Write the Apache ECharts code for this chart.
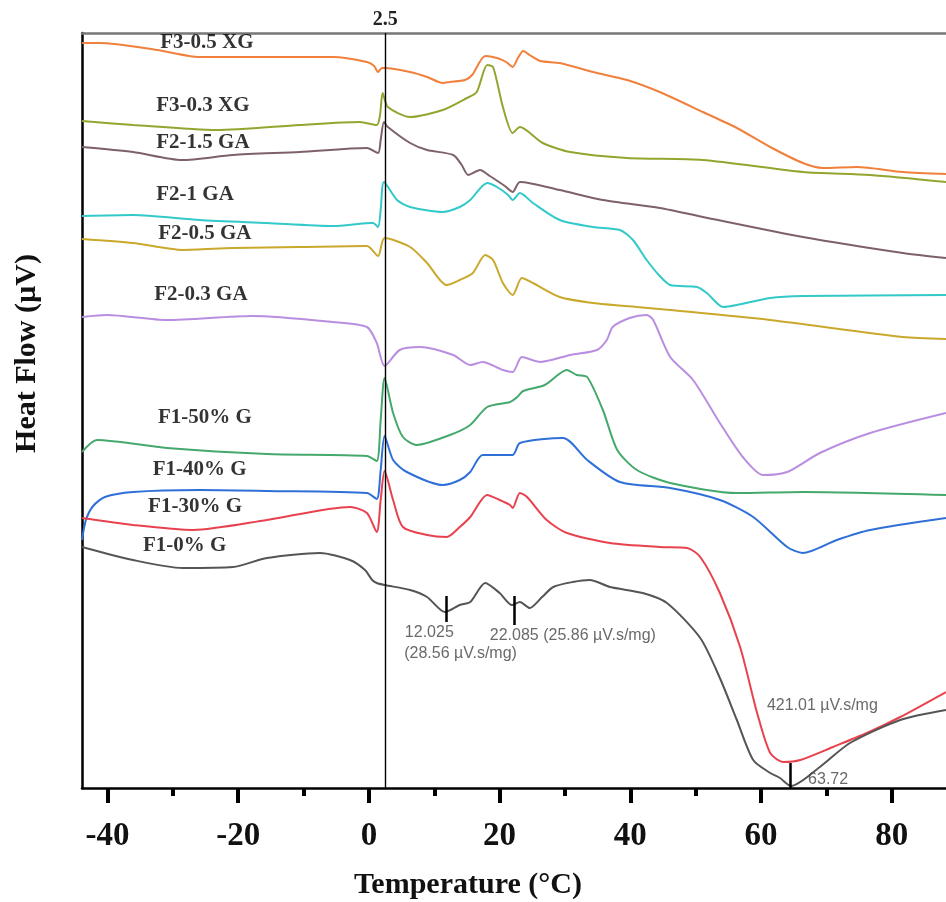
<!DOCTYPE html>
<html>
<head>
<meta charset="utf-8">
<script src="https://cdn.jsdelivr.net/npm/echarts@6/dist/echarts.min.js"></script>
<style>html,body{margin:0;padding:0;background:#fff}#c{width:946px;height:902px}</style>
</head>
<body>
<div id="c"></div>
<script>
// ---- data (temperature °C, heat flow in arbitrary µV units) ----
const seriesNames = ['F3-0.5 XG','F3-0.3 XG','F2-1.5 GA','F2-1 GA','F2-0.5 GA','F2-0.3 GA','F1-50% G','F1-40% G','F1-30% G','F1-0% G'];
const xTicksMajor = [-40,-20,0,20,40,60,80];
const xTicksMinor = [-30,-10,10,30,50,70];

const f3_05XG = [[-43.9,745],[-41.2,745],[-32.4,738],[-25.9,731],[-10.6,731],[-5.5,731],[-0.3,726],[0.8,722],[1.4,716],[2.0,720],[2.5,720],[6.3,716],[8.9,711],[11.3,705],[12.4,706],[14.7,708],[15.8,713],[17.8,732],[19.6,730],[21.0,726],[22.0,721],[22.8,730],[23.6,737],[24.6,733],[26.2,727],[29.2,725],[34.3,716],[39.5,708],[44.5,696],[51.1,676],[56.3,660],[61.4,641],[66.4,625],[69.5,620],[74.7,621],[81.7,616],[88.3,614]];
const f3_03XG = [[-43.9,667],[-36.1,663],[-23.3,658],[-10.6,663],[-1.4,666],[1.2,663],[1.7,673],[2.1,695],[2.9,681],[6.3,671],[11.3,678],[15.0,690],[16.5,696],[18.1,723],[19.0,721],[20.5,681],[22.0,655],[23.1,661],[26.6,645],[30.8,636],[39.5,630],[51.1,628],[66.4,616],[76.7,613],[88.3,606]];
const f2_15GA = [[-43.9,641],[-36.1,636],[-28.6,628],[-20.8,633],[-10.6,636],[-0.3,640],[1.4,635],[1.8,648],[2.3,666],[2.9,661],[6.3,645],[8.9,638],[12.9,633],[14.2,623],[15.2,613],[17.0,618],[18.5,612],[20.8,602],[22.0,596],[23.1,606],[29.2,598],[35.8,588],[44.5,580],[51.1,571],[66.4,551],[81.7,535],[88.3,530]];
const f2_1GA = [[-43.9,572],[-36.1,573],[-25.9,568],[-15.6,565],[-5.5,562],[0.6,565],[1.4,561],[1.8,578],[2.3,606],[4.3,588],[6.3,581],[11.3,576],[13.9,581],[15.5,588],[18.1,605],[19.6,601],[21.3,593],[22.0,588],[23.1,595],[25.1,585],[29.2,568],[34.3,561],[38.4,558],[40.4,548],[42.5,528],[44.5,512],[46.1,503],[50.2,501],[51.7,495],[54.2,481],[56.3,483],[61.4,490],[66.4,492],[88.3,493]];
const f2_05GA = [[-43.9,549],[-36.1,545],[-28.5,538],[-20.8,540],[-10.6,541],[-0.3,542],[1.4,532],[2.4,550],[6.3,541],[8.9,525],[11.9,503],[13.9,508],[15.9,515],[17.8,533],[19.0,528],[20.5,505],[22.0,493],[23.4,510],[25.1,505],[29.2,491],[34.3,485],[41.0,481],[46.1,478],[61.4,468],[81.7,451],[88.3,449]];
const f2_03GA = [[-43.9,471],[-40.1,473],[-30.9,468],[-17.8,472],[-5.5,466],[-0.3,461],[1.2,445],[2.4,422],[4.7,438],[7.8,441],[12.9,433],[15.5,423],[17.4,426],[20.5,418],[22.0,416],[23.4,431],[26.2,426],[30.8,433],[34.9,438],[36.4,448],[37.3,461],[39.9,470],[42.5,473],[43.5,468],[46.1,431],[49.6,408],[53.7,365],[57.2,331],[60.3,313],[64.0,316],[69.0,335],[76.7,355],[88.3,375]];
const f1_50G = [[-43.9,336],[-41.6,348],[-30.9,340],[-15.6,334],[-0.3,332],[1.2,327],[1.8,368],[2.4,410],[3.7,375],[5.2,351],[7.3,343],[12.4,353],[15.5,363],[18.1,381],[21.6,386],[22.7,391],[23.6,397],[26.9,403],[30.3,418],[31.8,413],[33.4,411],[35.8,378],[38.0,338],[41.0,318],[46.1,305],[56.3,295],[66.4,296],[88.3,293]];
const f1_40G = [[-43.9,248],[-43.3,268],[-42.2,282],[-40.4,291],[-36.1,296],[-25.9,298],[-15.6,297],[-0.3,295],[1.2,289],[1.8,318],[2.4,352],[3.7,328],[5.8,316],[11.3,303],[13.9,308],[15.5,316],[17.4,333],[22.0,333],[23.1,345],[29.7,350],[33.4,328],[38.4,306],[46.1,300],[53.7,288],[58.8,271],[64.0,241],[66.4,235],[71.6,248],[76.7,258],[88.3,270]];
const f1_30G = [[-43.9,270],[-36.1,263],[-26.9,258],[-15.6,268],[-2.9,281],[-0.3,275],[1.2,256],[1.8,288],[2.4,317],[3.7,288],[5.2,261],[8.9,253],[11.9,251],[13.9,261],[15.5,271],[18.1,293],[20.0,288],[21.6,283],[22.0,280],[23.1,295],[24.2,291],[27.2,268],[30.3,255],[36.9,245],[44.5,241],[48.7,240],[50.7,231],[53.7,195],[56.8,141],[59.4,75],[61.4,35],[63.4,26],[66.0,28],[71.0,41],[76.2,55],[81.3,71],[88.3,96]];
const f1_0G = [[-43.9,241],[-36.1,228],[-28.5,220],[-20.8,221],[-15.6,230],[-7.5,235],[-2.9,228],[-0.6,218],[0.5,208],[1.2,205],[2.4,203],[6.3,198],[8.9,191],[11.6,176],[13.9,183],[15.5,186],[17.8,205],[20.0,195],[21.9,183],[23.1,186],[24.6,180],[26.5,191],[28.2,201],[31.2,206],[33.8,208],[36.9,201],[41.9,195],[45.6,185],[50.7,150],[53.7,110],[56.3,68],[58.8,28],[61.4,15],[62.9,10],[64.6,2],[69.0,21],[73.6,45],[81.3,68],[88.3,78]];

const refLineX = 2.5;
// peak markers: [x, yLow, yHigh]
const peakMarkers = [[11.9,166,192],[22.2,163,192],[64.5,0,25]];
const annotationTexts = ['12.025','(28.56 µV.s/mg)','22.085 (25.86 µV.s/mg)','421.01 µV.s/mg','63.72'];

// ---- presentation ----
const colors = ['#f0803c','#93a52e','#7e6168','#33c9c9','#c9a82c','#b98ee0','#45a86c','#2f70d8','#e8424e','#555555'];
const seriesData = [f3_05XG,f3_03XG,f2_15GA,f2_1GA,f2_05GA,f2_03GA,f1_50G,f1_40G,f1_30G,f1_0G];
const labelAnchors = [[-24.8,745],[-25.4,682],[-25.4,645],[-26.6,593],[-25.1,554],[-25.7,493],[-25.1,370],[-25.9,318],[-26.6,281],[-28.2,242]];
const annotationAnchors = [[5.5,155],[5.4,134],[18.5,152],[60.9,82],[67.2,8]];

const serif = 'Liberation Serif';
const xMin = -43.9, xMax = 88.3;

const lineSeries = seriesData.map((d,i) => ({
  name: seriesNames[i], type: 'line', data: d, showSymbol: false, symbol: 'none',
  smooth: 0.25, lineStyle: {color: colors[i], width: 2}, itemStyle:{color:colors[i]},
  z: 3, silent: true
}));

lineSeries[0].markLine = {
  silent: true, symbol: 'none', animation: false,
  lineStyle: {color: '#000', width: 1.4, type: 'solid'},
  label: {show: true, position: 'end', formatter: '2.5', fontFamily: serif, fontWeight: 'bold', fontSize: 20, color: '#222', distance: 3},
  data: [{xAxis: refLineX}]
};
lineSeries[9].markLine = {
  silent: true, symbol: 'none', animation: false,
  lineStyle: {color: '#000', width: 2.5, type: 'solid'},
  label: {show: false},
  data: peakMarkers.map(m => [{coord: [m[0], m[1]]}, {coord: [m[0], m[2]]}])
};

const labelSeries = {
  type: 'scatter', symbolSize: 0, silent: true, z: 5,
  data: labelAnchors.map((p,i) => ({value: p, name: seriesNames[i]})),
  label: {show: true, position: 'inside', formatter: '{b}', fontFamily: serif, fontWeight: 'bold', fontSize: 21, color: '#000'}
};
const annoSeries = {
  type: 'scatter', symbolSize: 0, silent: true, z: 5,
  data: annotationAnchors.map((p,i) => ({value: p, name: annotationTexts[i]})),
  label: {show: true, position: 'right', distance: 0, formatter: '{b}', fontFamily: 'Liberation Sans', fontSize: 16, color: '#444'}
};

const chart = echarts.init(document.getElementById('c'), null, {renderer: 'canvas'});
chart.setOption({
  backgroundColor: '#fff',
  animation: false,
  grid: {left: 82, right: 0, top: 33, bottom: 114, containLabel: false, outerBoundsMode: 'none'},
  xAxis: [
    {
      type: 'value', min: xMin, max: xMax, position: 'bottom',
      name: 'Temperature (°C)', nameLocation: 'middle', nameGap: 82,
      nameTextStyle: {fontFamily: serif, fontWeight: 'bold', fontSize: 30, color: '#111', padding: [0, 92, 0, 0]},
      axisLine: {show: true, onZero: false, lineStyle: {color: '#000', width: 2.5}},
      axisTick: {show: true, inside: false, length: 15, customValues: xTicksMajor, lineStyle: {color: '#000', width: 4}},
      axisLabel: {show: true, customValues: xTicksMajor, margin: 32, fontFamily: serif, fontWeight: 'bold', fontSize: 33, color: '#111'},
      splitLine: {show: false}
    },
    {
      type: 'value', min: xMin, max: xMax, position: 'bottom',
      axisLine: {show: false},
      axisTick: {show: true, inside: false, length: 8, customValues: xTicksMinor, lineStyle: {color: '#000', width: 4}},
      axisLabel: {show: false}, splitLine: {show: false}
    },
    {
      type: 'value', min: xMin, max: xMax, position: 'top',
      axisLine: {show: true, onZero: false, lineStyle: {color: '#777', width: 2.5}},
      axisTick: {show: false}, axisLabel: {show: false}, splitLine: {show: false}
    }
  ],
  yAxis: {
    type: 'value', min: 0, max: 755, position: 'left',
    name: 'Heat Flow (µV)', nameLocation: 'middle', nameRotate: 90, nameGap: 40,
    nameTextStyle: {fontFamily: serif, fontWeight: 'bold', fontSize: 30, color: '#111', padding: [0, 0, 0, 114]},
    axisLine: {show: true, onZero: false, lineStyle: {color: '#000', width: 2.5}},
    axisTick: {show: false}, axisLabel: {show: false}, splitLine: {show: false}
  },
  series: [...lineSeries, labelSeries, annoSeries]
});
</script>
</body>
</html>
